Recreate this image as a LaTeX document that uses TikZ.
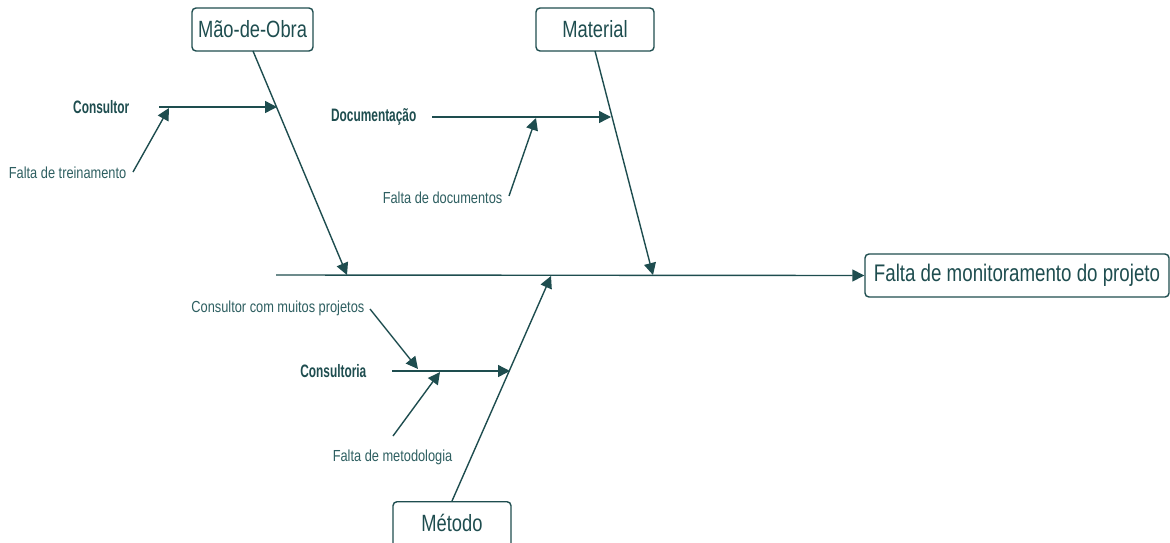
\documentclass[tikz,border=0pt]{standalone}
\usepackage{fontspec}
\setmainfont[FakeStretch=0.78]{Liberation Sans}
\newfontfamily\labelfont[FakeStretch=0.8]{Liberation Sans}
\newfontfamily\boldlabelfont[FakeStretch=0.66]{Liberation Sans Bold}
\usetikzlibrary{arrows.meta}
\definecolor{ink}{HTML}{1E4D4F}
\definecolor{softink}{HTML}{2E5F61}
\begin{document}
\begin{tikzpicture}[x=1pt,y=-1pt,
  line width=1.4pt,
  bone/.style={draw=ink,-{Triangle[length=12pt,width=12pt]}},
  catbox/.style={draw=ink,rounded corners=4pt,line width=1.4pt,text=ink,
    inner sep=0pt,minimum height=43pt,font=\fontsize{23.5}{26}\selectfont},
  effectbox/.style={catbox,font=\fontsize{24}{26}\selectfont},
  sublabel/.style={text=ink,inner sep=0pt,font=\boldlabelfont\fontsize{18}{20}\selectfont},
  cause/.style={text=softink,inner sep=0pt,font=\labelfont\fontsize{16}{18}\selectfont}]
\useasboundingbox (0,0) rectangle (1170,542);

% category boxes and the effect
\node[catbox,minimum width=121pt] (mao) at (252.5,29.5) {Mão-de-Obra};
\node[catbox,minimum width=118pt] (mat) at (595,29.5) {Material};
\node[catbox,minimum width=118pt,minimum height=60pt,anchor=north] (met) at (452,501) {};
\node[text=ink,font=\fontsize{23.5}{26}\selectfont,inner sep=0pt] (mettxt) at (452,523) {Método};
\node[effectbox,minimum width=304pt] (eff) at (1017,275.5) {Falta de monitoramento do projeto};

% spine
\coordinate (tail) at (276,275);
\draw[bone] (tail) -- (eff.west);

% main bones
\coordinate (maoTop) at (253,51);
\coordinate (maoHit) at (347,275);
\coordinate (matTop) at (595,51);
\coordinate (matHit) at (653,275);
\coordinate (metBot) at (452,501);
\coordinate (metHit) at (551,276);
\draw[bone] (maoTop) -- (maoHit);
\draw[bone] (matTop) -- (matHit);
\draw[bone] (metBot) -- (metHit);

% Mão-de-Obra branch
\node[sublabel,anchor=east] (consultor) at (130,107) {Consultor};
\coordinate (consS) at (159,107);
\coordinate (consE) at (277,107);
\draw[bone] (consS) -- (consE);
\node[cause,anchor=east] (treino) at (127,173) {Falta de treinamento};
\coordinate (treinoS) at (133,172);
\coordinate (treinoE) at (169,108);
\draw[bone] (treinoS) -- (treinoE);

% Material branch
\node[sublabel,anchor=east] (docum) at (417,117) {Documentação};
\coordinate (docS) at (432,117);
\coordinate (docE) at (611,117);
\draw[bone] (docS) -- (docE);
\node[cause,anchor=east] (faltadoc) at (503,198) {Falta de documentos};
\coordinate (fdS) at (509,196);
\coordinate (fdE) at (536,118);
\draw[bone] (fdS) -- (fdE);

% Método branch
\node[sublabel,anchor=east] (consultoria) at (367,371) {Consultoria};
\coordinate (ctS) at (392,371);
\coordinate (ctE) at (510,371);
\draw[bone] (ctS) -- (ctE);
\node[cause,anchor=east] (muitos) at (365,308) {Consultor com muitos projetos};
\coordinate (muS) at (370,309);
\coordinate (muE) at (418,369);
\draw[bone] (muS) -- (muE);
\node[cause,anchor=east] (metodo) at (453,457) {Falta de metodologia};
\coordinate (fmS) at (393,436);
\coordinate (fmE) at (440,372);
\draw[bone] (fmS) -- (fmE);
\end{tikzpicture}
\end{document}
